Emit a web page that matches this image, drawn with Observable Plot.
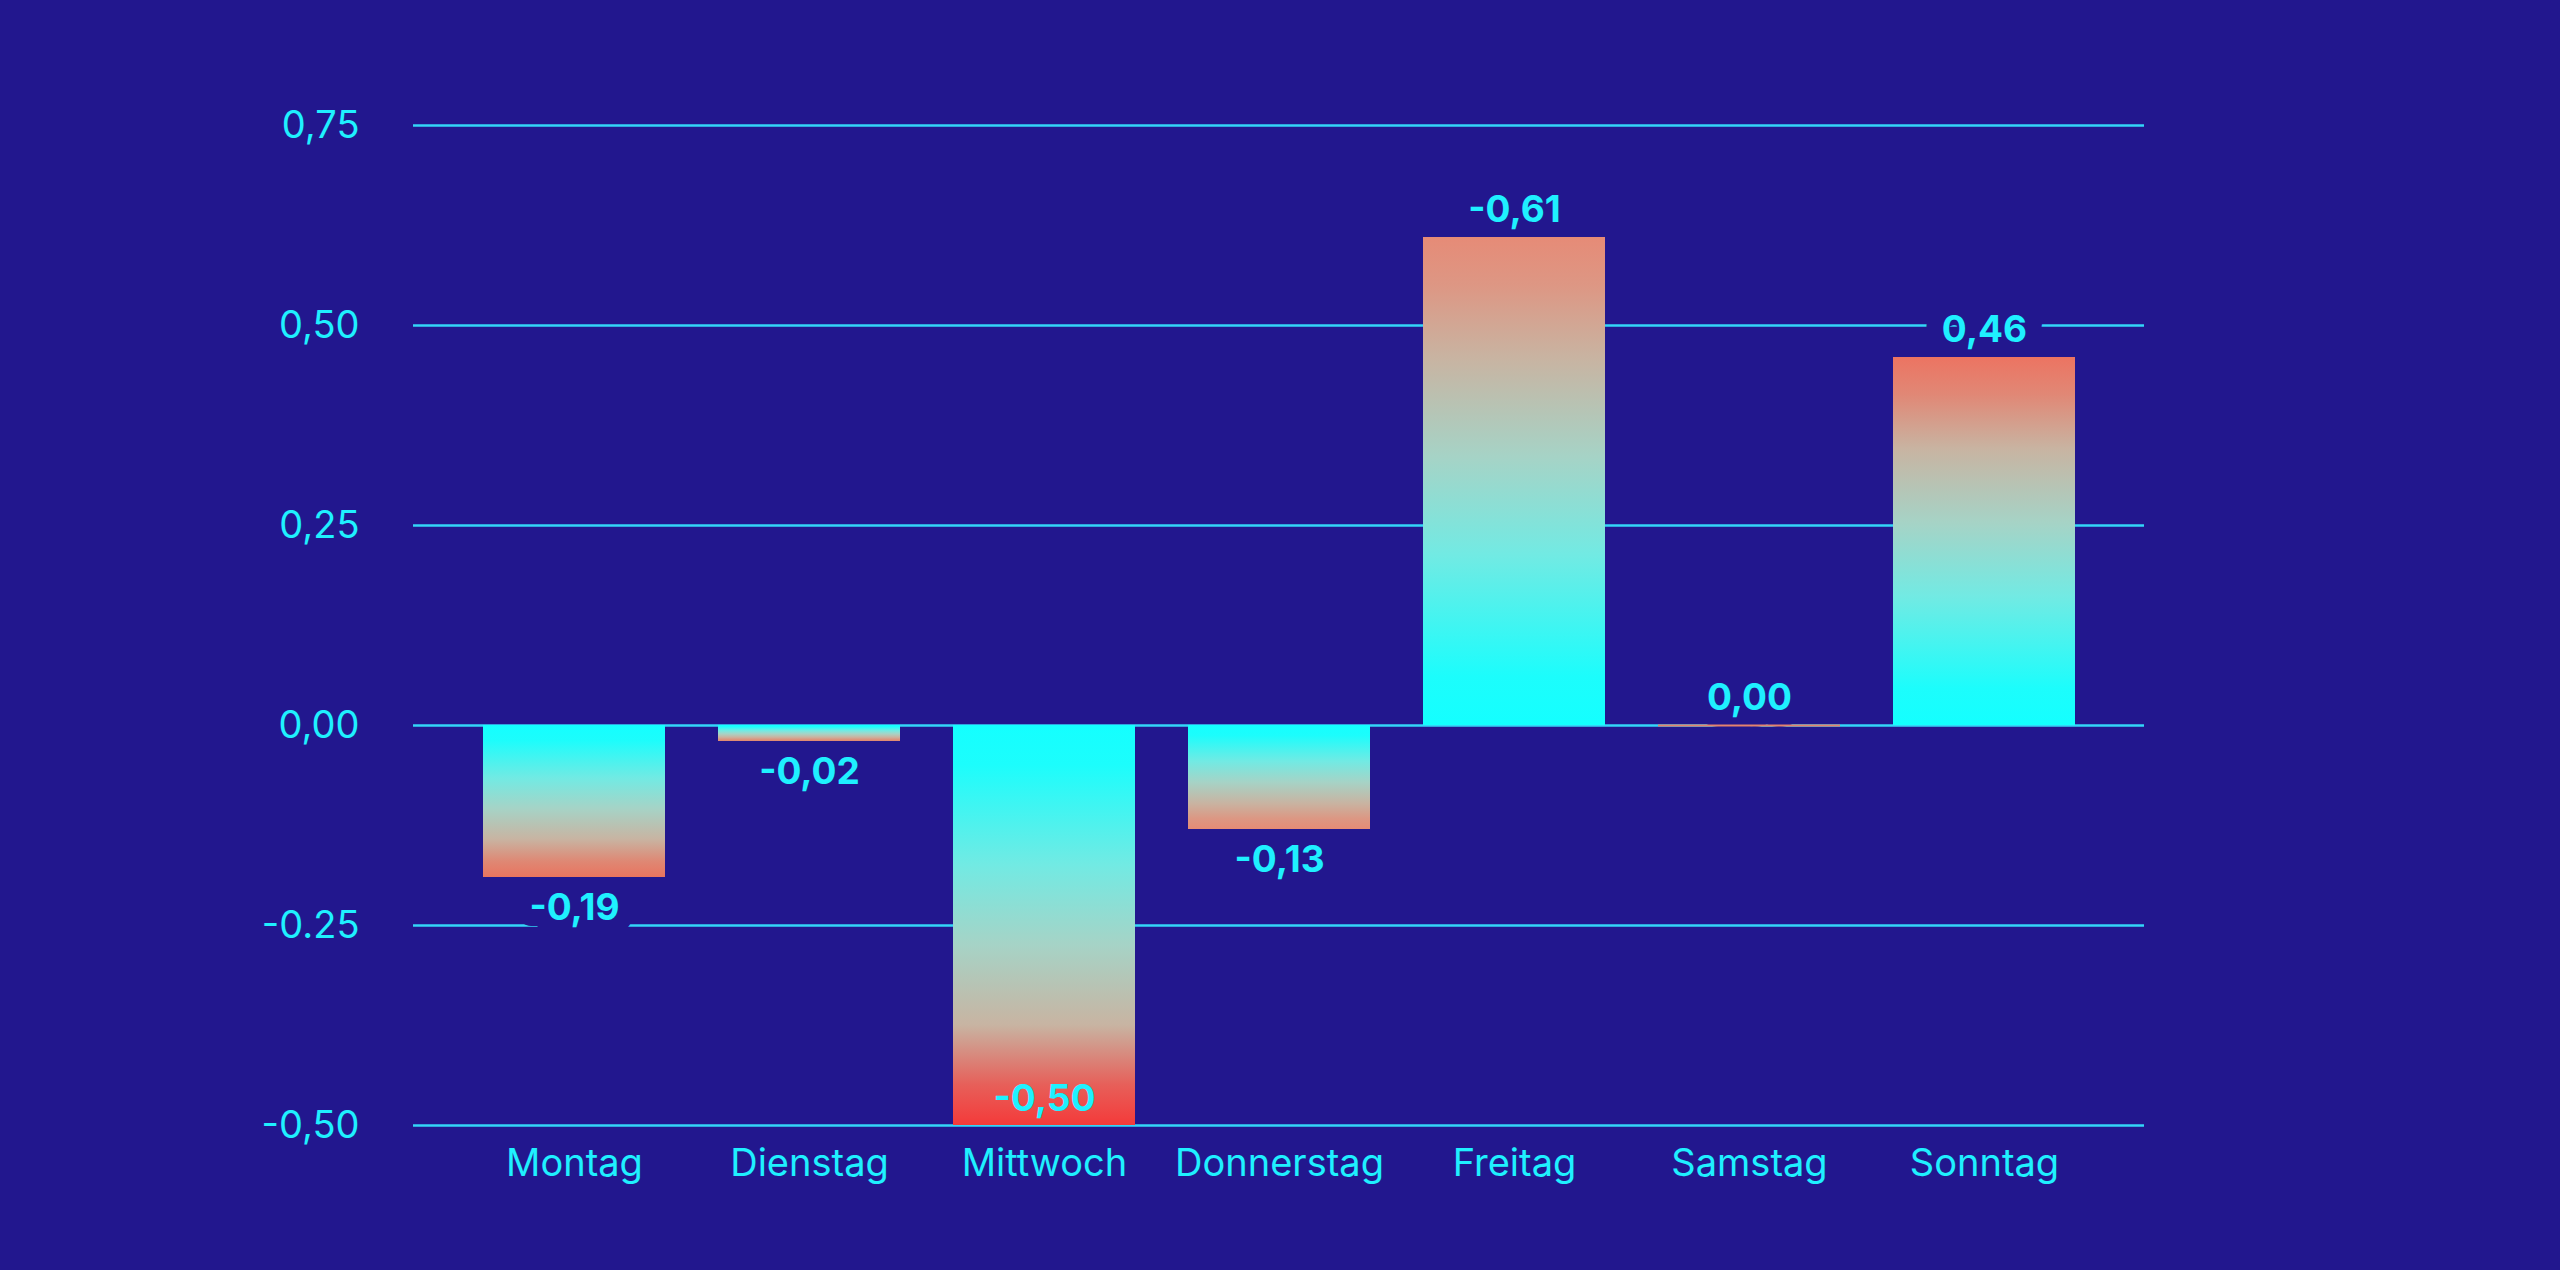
<!DOCTYPE html>
<html>
<head>
<meta charset="utf-8">
<script src="https://cdn.jsdelivr.net/npm/d3@7"></script>
<script src="https://cdn.jsdelivr.net/npm/@observablehq/plot@0.6"></script>
<style>
  html, body { margin: 0; padding: 0; background: #22178e; }
  #chart svg { display: block; }
</style>
</head>
<body>
<div id="chart"></div>
<script>
// ---- data ----
const days = ["Montag", "Dienstag", "Mittwoch", "Donnerstag", "Freitag", "Samstag", "Sonntag"];
const values = [-0.19, -0.02, -0.50, -0.13, 0.61, 0.00, 0.46];
const valueLabels = ["-0,19", "-0,02", "-0,50", "-0,13", "-0,61", "0,00", "0,46"];
const yTicks = [0.75, 0.50, 0.25, 0.00, -0.25, -0.50];
const yTickLabels = ["0,75", "0,50", "0,25", "0,00", "-0.25", "-0,50"];

// ---- styles ----
const BG = "#22178e";
const TEXT = "#1ff0ff";
const GRID = "#33d6f8";
const CYAN = "#14ffff";
const endColors = ["#e9745f", "#e2886f", "#f43a3a", "#e58b75", "#e68b77", "#e4826e", "#ec7462"];

const data = days.map((day, i) => ({ day, value: values[i], label: valueLabels[i], id: "grad" + i, end: endColors[i] }));
const yMin = d3.min(yTicks);

const defs = () => {
  const g = d3.create("svg:defs");
  data.forEach(d => {
    const up = d.value >= 0;
    const lg = g.append("linearGradient").attr("id", d.id)
      .attr("x1", 0).attr("x2", 0).attr("y1", up ? 1 : 0).attr("y2", up ? 0 : 1);
    const stops = [[0, CYAN], [0.1, "#1cfdfc"], [0.35, "#72eae3"], [0.55, "#a6d3c6"], [0.75, "#c8b4a2"], [0.9, d3.interpolateRgb("#c8b4a2", d.end)(0.7)], [1, d.end]];
    stops.forEach(([o, c]) => lg.append("stop").attr("offset", o).attr("stop-color", c));
  });
  return g.node();
};

const inside = d => d.value <= yMin + 0.05;
const below = d => d.value < 0 && !inside(d);
const above = d => d.value >= 0;

const labelFont = { fontFamily: "Inter", fontWeight: 700, fontSize: 37 };

const chart = Plot.plot({
  width: 2560,
  height: 1270,
  marginLeft: 413,
  marginRight: 416,
  marginTop: 125,
  marginBottom: 145,
  style: { background: BG, color: TEXT, fontFamily: "Inter", fontSize: "38px" },
  x: { type: "band", domain: days, paddingInner: 0.227, paddingOuter: 0.287, axis: null },
  y: { domain: [-0.5, 0.75], axis: null },
  color: { type: "identity" },
  marks: [
    defs,
    Plot.ruleY(yTicks, { stroke: GRID, strokeWidth: 2.4 }),
    Plot.axisY(yTicks, { tickSize: 0, tickPadding: 54, fontSize: 38, fontVariant: "normal", fill: TEXT, tickFormat: d => yTickLabels[yTicks.indexOf(d)], label: null }),
    Plot.axisX({ tickSize: 0, tickPadding: 24, fontSize: 38, fontVariant: "normal", fill: TEXT, label: null }),
    // halos that cut the gridlines behind the value labels
    Plot.text(data.filter(below), { x: "day", y: "value", text: "label", dy: 31, ...labelFont, fill: BG, stroke: BG, strokeWidth: 34 }),
    Plot.text(data.filter(above), { x: "day", y: "value", text: "label", dy: -27, ...labelFont, fill: BG, stroke: BG, strokeWidth: 34 }),
    Plot.barY(data.filter(d => d.value !== 0), { x: "day", y: "value", fill: d => `url(#${d.id})` }),
    Plot.tickY(data.filter(d => d.value === 0), { x: "day", y: "value", stroke: "#e4826e", strokeWidth: 2 }),
    Plot.text(data.filter(below), { x: "day", y: "value", text: "label", dy: 31, ...labelFont, fill: TEXT }),
    Plot.text(data.filter(above), { x: "day", y: "value", text: "label", dy: -27, ...labelFont, fill: TEXT }),
    Plot.text(data.filter(inside), { x: "day", y: "value", text: "label", dy: -26, ...labelFont, fill: TEXT })
  ]
});
document.getElementById("chart").appendChild(chart);
</script>
</body>
</html>
